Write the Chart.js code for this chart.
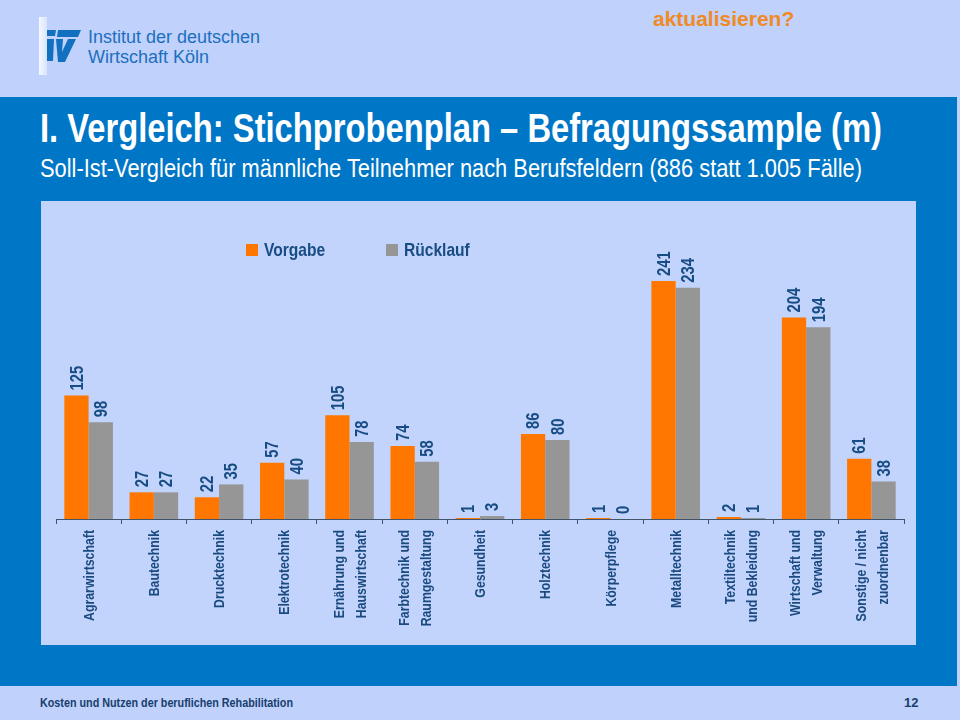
<!DOCTYPE html>
<html>
<head>
<meta charset="utf-8">
<script src="https://cdn.jsdelivr.net/npm/chart.js@4/dist/chart.umd.min.js"></script>
<style>
  html, body { margin: 0; padding: 0; }
  body { width: 960px; height: 720px; position: relative; overflow: hidden; background: #C0D1FB; font-family: 'Liberation Sans', Arial, sans-serif; }
  .abs { position: absolute; }
  .fit { transform-origin: 0 0; }
  #blue { left: 0; top: 97px; width: 957px; height: 589px; background: #0076C6; }
  #panel { left: 41px; top: 201px; width: 875px; height: 444px; background: #C2D4FB; }
  #title { left: 40px; top: 108px; font-size: 40px; line-height: 40px; font-weight: bold; color: #fff; white-space: nowrap; }
  #subtitle { left: 40px; top: 156px; font-size: 25px; line-height: 25px; color: #fff; white-space: nowrap; }
  #org1, #org2 { left: 88px; font-size: 18px; line-height: 18px; color: #1C6FC0; white-space: nowrap; }
  #org1 { top: 28px; }
  #org2 { top: 48px; }
  #akt { left: 653px; top: 8px; font-size: 21px; line-height: 21px; font-weight: bold; color: #F08A24; white-space: nowrap; }
  #foot { left: 40px; top: 696px; font-size: 13px; line-height: 13px; font-weight: bold; color: #17406E; white-space: nowrap; }
  #page { left: 904px; top: 696px; font-size: 13px; line-height: 13px; font-weight: bold; color: #17406E; }
</style>
</head>
<body>
<div class="abs" id="blue"></div>
<svg class="abs" style="left:38px;top:16px" width="46" height="62" viewBox="0 0 46 62">
  <defs><linearGradient id="wg" x1="0" x2="1"><stop offset="0" stop-color="#F4F8FF"/><stop offset="1" stop-color="#D8E4FC"/></linearGradient></defs>
  <rect x="1" y="1" width="8" height="58" fill="url(#wg)"/>
  <polygon points="9,14 18,14 17,20 9,20" fill="#1270C0"/>
  <polygon points="20,14 43,14 40,21 19,21" fill="#1270C0"/>
  <polygon points="9,23 16,23 15,45 9,45" fill="#1270C0"/>
  <polygon points="18,23 25,23 24,36 30,23 38,23 27,46 20,46" fill="#1270C0"/>
</svg>
<div class="abs" id="org1">Institut der deutschen</div>
<div class="abs" id="org2">Wirtschaft Köln</div>
<div class="abs" id="akt">aktualisieren?</div>
<div class="abs fit" id="title" data-w="842">I. Vergleich: Stichprobenplan – Befragungssample (m)</div>
<div class="abs fit" id="subtitle" data-w="822">Soll-Ist-Vergleich für männliche Teilnehmer nach Berufsfeldern (886 statt 1.005 Fälle)</div>
<div class="abs" id="panel"><canvas id="c" width="875" height="444"></canvas></div>
<div class="abs fit" id="foot" data-w="253">Kosten und Nutzen der beruflichen Rehabilitation</div>
<div class="abs" id="page">12</div>
<script>
const categories = [
  ["Agrarwirtschaft"], ["Bautechnik"], ["Drucktechnik"], ["Elektrotechnik"],
  ["Ernährung und", "Hauswirtschaft"], ["Farbtechnik und", "Raumgestaltung"],
  ["Gesundheit"], ["Holztechnik"], ["Körperpflege"], ["Metalltechnik"],
  ["Textiltechnik", "und Bekleidung"], ["Wirtschaft und", "Verwaltung"],
  ["Sonstige / nicht", "zuordnenbar"]
];
const vorgabe   = [125, 27, 22, 57, 105, 74, 1, 86, 1, 241, 2, 204, 61];
const ruecklauf = [98, 27, 35, 40, 78, 58, 3, 80, 0, 234, 1, 194, 38];
const seriesNames = ["Vorgabe", "Rücklauf"];
const seriesColors = ["#FF7700", "#969696"];

// condense HTML text to the reference widths
document.querySelectorAll('.fit').forEach(el => {
  const w = el.getBoundingClientRect().width;
  const target = parseFloat(el.dataset.w);
  el.style.transform = 'scaleX(' + (target / w) + ')';
});

const FONT = "'Liberation Sans', Arial, sans-serif";
const NARROW = 0.82;
const TEXT_BLUE = "#184C84";

const labelsPlugin = {
  id: 'customLabels',
  afterDraw(chart) {
    const ctx = chart.ctx;
    // value labels
    ctx.save();
    ctx.fillStyle = TEXT_BLUE;
    ctx.font = "bold 19px " + FONT;
    chart.data.datasets.forEach((ds, di) => {
      const meta = chart.getDatasetMeta(di);
      meta.data.forEach((el, i) => {
        ctx.save();
        ctx.translate(el.x, el.y - 5);
        ctx.rotate(-Math.PI / 2);
        ctx.scale(0.78, 1);
        ctx.textAlign = 'left';
        ctx.textBaseline = 'middle';
        ctx.fillText(String(ds.data[i]), 0, 1);
        ctx.restore();
      });
    });
    ctx.restore();
    // category labels
    const xs = chart.scales.x;
    const base = xs.top;
    ctx.save();
    ctx.fillStyle = "#1B4A80";
    ctx.font = "bold 15px " + FONT;
    categories.forEach((lines, i) => {
      const px = xs.getPixelForValue(i);
      const n = lines.length;
      lines.forEach((ln, j) => {
        ctx.save();
        ctx.translate(px + (j - (n - 1) / 2) * 22, base + 11);
        ctx.rotate(-Math.PI / 2);
        ctx.scale(NARROW, 1);
        ctx.textAlign = 'right';
        ctx.textBaseline = 'middle';
        ctx.fillText(ln, 0, 1);
        ctx.restore();
      });
    });
    ctx.restore();
    // legend
    ctx.save();
    ctx.font = "bold 19px " + FONT;
    ctx.textBaseline = 'middle';
    let lx = 205;
    const ly = 49;
    chart.data.datasets.forEach((ds, di) => {
      ctx.fillStyle = ds.backgroundColor;
      ctx.fillRect(lx, ly - 6, 12, 12);
      ctx.fillStyle = TEXT_BLUE;
      ctx.save();
      ctx.translate(lx + 18, ly + 1);
      ctx.scale(NARROW, 1);
      ctx.textAlign = 'left';
      ctx.fillText(ds.label, 0, 0);
      ctx.restore();
      lx += 140;
    });
    ctx.restore();
  }
};

new Chart(document.getElementById('c'), {
  type: 'bar',
  data: {
    labels: categories.map(c => c.join(' ')),
    datasets: [
      { label: seriesNames[0], data: vorgabe, backgroundColor: seriesColors[0] },
      { label: seriesNames[1], data: ruecklauf, backgroundColor: seriesColors[1] }
    ]
  },
  options: {
    responsive: false,
    animation: false,
    devicePixelRatio: 1,
    layout: { padding: { top: 71, left: 15, right: 12, bottom: 0 } },
    datasets: { bar: { categoryPercentage: 0.745, barPercentage: 1.0 } },
    plugins: { legend: { display: false }, tooltip: { enabled: false } },
    scales: {
      x: {
        grid: { offset: true, drawOnChartArea: false, drawTicks: true, tickLength: 5, color: '#40546C' },
        border: { display: true, color: '#40546C', width: 1 },
        ticks: { display: false },
        afterFit(scale) { scale.height = 126; }
      },
      y: { display: false, min: 0, max: 250 }
    }
  },
  plugins: [labelsPlugin]
});
</script>
</body>
</html>
